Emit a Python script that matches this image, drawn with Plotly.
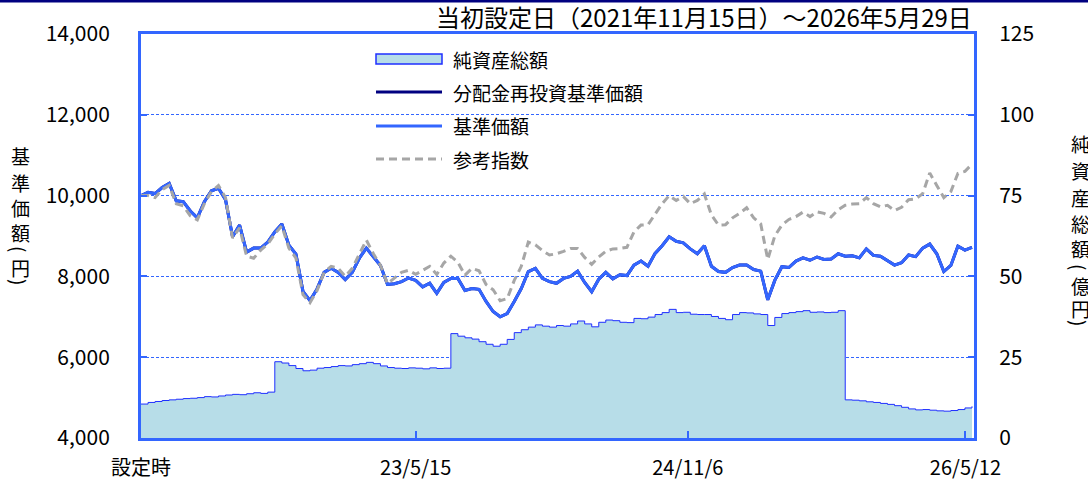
import pandas as pd
import plotly.graph_objects as go

# ---------------- data ----------------
dates = pd.date_range("2021-11-15", periods=119, freq="14D")

nav_price = [  # 基準価額 (円)
    10000, 10080, 10050, 10200, 10300, 9870, 9850, 9620, 9450, 9850,
    10120, 10180, 9900, 8980, 9270, 8600, 8700, 8700, 8850, 9100,
    9300, 8770, 8550, 7630, 7400, 7690, 8100, 8200, 8100, 7920,
    8100, 8450, 8700, 8470, 8270, 7800, 7820, 7870, 7960, 7900,
    7740, 7830, 7580, 7850, 7950, 7950, 7650, 7700, 7680, 7380,
    7130, 7000, 7080, 7380, 7700, 8120, 8200, 7950, 7870, 7830,
    7950, 8000, 8130, 7850, 7620, 7930, 8100, 7940, 8040, 8020,
    8280, 8380, 8250, 8570, 8760, 8980, 8870, 8830, 8680, 8560,
    8760, 8250, 8120, 8100, 8220, 8280, 8280, 8170, 8130, 7420,
    7900, 8240, 8220, 8380, 8460, 8400, 8480, 8420, 8430, 8560,
    8500, 8510, 8460, 8680, 8520, 8500, 8400, 8280, 8340, 8530,
    8490, 8700, 8800, 8560, 8120, 8270, 8750, 8650, 8720,
]
reinvested = list(nav_price)  # 分配金再投資基準価額 (no distributions -> identical)

benchmark = [  # 参考指数
    10000, 10000, 9950, 10150, 10250, 9800, 9750, 9500, 9400, 9800,
    10100, 10250, 9950, 8950, 9200, 8500, 8450, 8650, 8800, 9050,
    9250, 8700, 8450, 7550, 7350, 7650, 8100, 8250, 8200, 8000,
    8200, 8550, 8900, 8560, 8280, 7820, 7950, 8100, 8150, 8050,
    8150, 8250, 8050, 8330, 8500, 8350, 8030, 8200, 8140, 7800,
    7670, 7400, 7450, 7900, 8250, 8850, 8780, 8640, 8530, 8560,
    8620, 8690, 8690, 8470, 8300, 8480, 8620, 8680, 8690, 8720,
    9100, 9270, 9280, 9550, 9800, 10000, 9880, 9980, 9800, 9880,
    10040, 9520, 9270, 9280, 9450, 9560, 9700, 9450, 9300, 8420,
    9000, 9270, 9410, 9480, 9590, 9480, 9600, 9560, 9470, 9650,
    9760, 9790, 9800, 9950, 9800, 9720, 9760, 9630, 9710, 9900,
    9920, 10050, 10560, 10250, 9950, 10100, 10550, 10600, 10780,
]

net_assets = [  # 純資産総額 (億円)
    10.5, 11.0, 11.3, 11.6, 11.8, 12.0, 12.2, 12.3, 12.5, 12.8,
    12.7, 13.0, 13.3, 13.5, 13.4, 13.7, 14.0, 13.8, 14.2,
    23.6, 23.2, 22.4, 21.5, 20.8, 21.0, 21.6, 21.8, 22.1, 22.4,
    22.3, 22.7, 23.0, 23.4, 23.0, 22.3, 21.8, 21.6, 21.5, 21.7,
    21.6, 21.4, 21.7, 21.5, 21.6,
    32.3, 31.5, 31.0, 30.6, 29.8, 29.0, 28.4, 29.0, 30.5, 32.6,
    33.5, 34.3, 35.0, 34.6, 34.3, 34.8, 34.6, 35.3, 36.2, 35.3,
    34.4, 35.8, 36.5, 36.3, 35.8, 35.7, 37.0, 36.9, 37.4, 38.2,
    38.8, 39.8, 38.8, 38.9, 38.3, 38.2, 38.2, 37.6, 37.0, 36.6,
    38.2, 38.8, 38.7, 38.4, 38.2, 34.8, 37.3, 38.5, 38.8, 39.1,
    39.4, 38.9, 39.0, 38.8, 38.9, 39.4,
    11.8, 11.7, 11.5, 11.2, 11.0, 10.7, 10.4, 10.0, 9.5, 9.0,
    8.7, 8.8, 8.6, 8.4, 8.3, 8.5, 8.8, 9.3, 9.8,
]

x_tick_dates = ["2021-11-15", "2023-05-15", "2024-11-06", "2026-05-12"]
x_tick_text = ["設定時", "23/5/15", "24/11/6", "26/5/12"]
left_ticks = [4000, 6000, 8000, 10000, 12000, 14000]
right_ticks = [0, 25, 50, 75, 100, 125]

legend_names = ["純資産総額", "分配金再投資基準価額", "基準価額", "参考指数"]
title_text = "当初設定日（2021年11月15日）～2026年5月29日"
left_title_chars = ["基", "準", "価", "額", "(", "円", ")"]
right_title_chars = ["純", "資", "産", "総", "額", "(", "億", "円", ")"]

# ---------------- style ----------------
FONT = "Noto Sans CJK JP"
BLUE = "#3366ff"
NAVY = "#000080"
GREY = "#a6a6a6"
FILL = "#b7dde8"
AREA_LINE = "#1f2fff"

W, H = 1088, 482
L, R, T, B = 141, 114, 34, 44
PW, PH = W - L - R, H - T - B


def px(xp):
    return (xp - L) / PW


def py(yp):
    return (H - B - yp) / PH


fig = go.Figure()

fig.add_trace(go.Scatter(
    x=dates, y=net_assets, yaxis="y2", mode="lines", line_shape="hv",
    line=dict(color=AREA_LINE, width=1), fill="tozeroy", fillcolor=FILL,
    name=legend_names[0], showlegend=False))
fig.add_trace(go.Scatter(
    x=dates, y=reinvested, mode="lines", line=dict(color=NAVY, width=3),
    name=legend_names[1], showlegend=False))
fig.add_trace(go.Scatter(
    x=dates, y=nav_price, mode="lines", line=dict(color=BLUE, width=3),
    name=legend_names[2], showlegend=False))
fig.add_trace(go.Scatter(
    x=dates, y=benchmark, mode="lines",
    line=dict(color=GREY, width=3, dash="8px,5px"),
    name=legend_names[3], showlegend=False))

axis_font = dict(family=FONT, size=20, color="#000000")
yfont = dict(family=FONT, size=21, color="#000000")

fig.update_layout(
    width=W, height=H, autosize=False,
    margin=dict(l=L, r=R, t=T, b=B, pad=0, autoexpand=False),
    paper_bgcolor="white", plot_bgcolor="white",
    showlegend=False,
    font=dict(family=FONT, color="#000000"),
    xaxis=dict(
        type="date", range=["2021-11-15", "2026-05-29"],
        tickvals=x_tick_dates, ticktext=x_tick_text,
        ticks="inside", ticklen=7, tickwidth=2, tickcolor=BLUE,
        showline=True, linecolor=BLUE, linewidth=3, mirror=True,
        showgrid=False, zeroline=False, automargin=False,
        tickfont=axis_font, ticklabelstandoff=10,
    ),
    yaxis=dict(
        range=[4000, 14000], tickvals=left_ticks, tickformat=",",
        ticks="inside", ticklen=6, tickwidth=2, tickcolor=BLUE,
        showline=True, linecolor=BLUE, linewidth=3,
        showgrid=True, gridcolor=BLUE, gridwidth=1, griddash="3px,2px",
        zeroline=False, automargin=False, tickfont=yfont, ticklabelstandoff=24,
    ),
    yaxis2=dict(
        range=[0, 125], tickvals=right_ticks, overlaying="y", side="right",
        ticks="inside", ticklen=6, tickwidth=2, tickcolor=BLUE,
        showline=True, linecolor=BLUE, linewidth=3,
        showgrid=False, zeroline=False, automargin=False, tickfont=yfont,
        ticklabelstandoff=18,
    ),
)

shapes = []
annotations = []

# top navy border line across the whole figure
shapes.append(dict(type="line", xref="paper", yref="paper",
                   x0=px(0), x1=px(W), y0=py(1), y1=py(1),
                   line=dict(color=NAVY, width=3)))

# custom legend (longer symbols than native plotly legend)
sym_x0, sym_x1, text_x = 376, 442, 451
rows_y = [59, 92, 126, 159]
shapes.append(dict(type="rect", xref="paper", yref="paper",
                   x0=px(sym_x0), x1=px(sym_x1),
                   y0=py(rows_y[0] + 5), y1=py(rows_y[0] - 5),
                   fillcolor=FILL, line=dict(color=AREA_LINE, width=1.5)))
shapes.append(dict(type="line", xref="paper", yref="paper",
                   x0=px(sym_x0), x1=px(sym_x1), y0=py(rows_y[1]), y1=py(rows_y[1]),
                   line=dict(color=NAVY, width=3)))
shapes.append(dict(type="line", xref="paper", yref="paper",
                   x0=px(sym_x0), x1=px(sym_x1), y0=py(rows_y[2]), y1=py(rows_y[2]),
                   line=dict(color=BLUE, width=3)))
shapes.append(dict(type="line", xref="paper", yref="paper",
                   x0=px(sym_x0), x1=px(sym_x1), y0=py(rows_y[3]), y1=py(rows_y[3]),
                   line=dict(color=GREY, width=3, dash="8px,5px")))
for name, ry in zip(legend_names, rows_y):
    annotations.append(dict(text=name, xref="paper", yref="paper",
                            x=px(text_x), y=py(ry), xanchor="left", yanchor="middle",
                            showarrow=False, font=dict(family=FONT, size=19, color="#000")))

# title (top right)
annotations.append(dict(text=title_text, xref="paper", yref="paper",
                        x=px(974), y=py(17), xanchor="right", yanchor="middle",
                        showarrow=False, font=dict(family=FONT, size=24, color="#000")))

# vertical axis titles (one character per line; brackets rotated)
left_ys = [155, 182, 207, 232, 249, 267, 282]
for ch, yy in zip(left_title_chars, left_ys):
    annotations.append(dict(text=ch, xref="paper", yref="paper", x=px(20), y=py(yy),
                            xanchor="center", yanchor="middle", showarrow=False,
                            textangle=90 if ch in "()" else 0,
                            font=dict(family=FONT, size=19, color="#000")))
right_ys = [143, 170, 197, 223, 248, 267, 285, 308, 323]
for ch, yy in zip(right_title_chars, right_ys):
    annotations.append(dict(text=ch, xref="paper", yref="paper", x=px(1080), y=py(yy),
                            xanchor="center", yanchor="middle", showarrow=False,
                            textangle=90 if ch in "()" else 0,
                            font=dict(family=FONT, size=19, color="#000")))

fig.update_layout(shapes=shapes, annotations=annotations)

fig.write_html(
    "out.html",
    config={"displayModeBar": False},
    post_script="document.body.style.margin='0';document.body.style.overflow='hidden';",
)
